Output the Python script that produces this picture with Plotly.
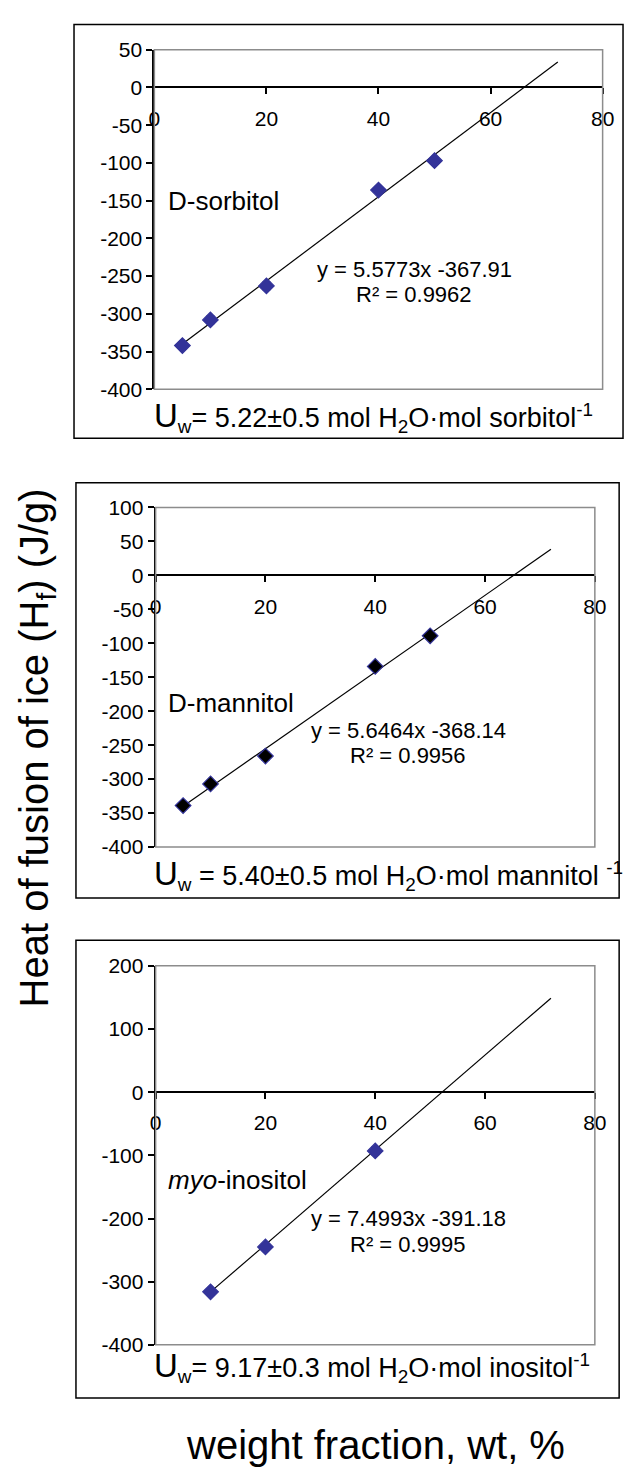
import plotly.graph_objects as go

W, H = 636, 1473

# ---------------- data ----------------
sorb_x = [5, 10, 20, 40, 50]
sorb_y = [-342, -308, -263, -136, -97]
sorb_err = [5, 5, 5, 3, 3]
sorb_fit = (5.5773, -367.91)

mann_x = [5, 10, 20, 40, 50]
mann_y = [-339, -307, -266, -134, -89]
mann_err = [5, 5, 6, 4, 4]
mann_fit = (5.6464, -368.14)

inos_x = [10, 20, 40]
inos_y = [-316, -245, -93]
inos_err = [5, 5, 6]
inos_fit = (7.4993, -391.18)

fit_end = 72
x_ticks = [0, 20, 40, 60, 80]
x_labels = ["0", "20", "40", "60", "80"]
y1_ticks = [50, 0, -50, -100, -150, -200, -250, -300, -350, -400]
y1_labels = ["50", "0", "-50", "-100", "-150", "-200", "-250", "-300", "-350", "-400"]
y2_ticks = [100, 50, 0, -50, -100, -150, -200, -250, -300, -350, -400]
y2_labels = ["100", "50", "0", "-50", "-100", "-150", "-200", "-250", "-300", "-350", "-400"]
y3_ticks = [200, 100, 0, -100, -200, -300, -400]
y3_labels = ["200", "100", "0", "-100", "-200", "-300", "-400"]

panels = [
    dict(name="D-sorbitol", x=sorb_x, y=sorb_y, err=sorb_err, fit=sorb_fit,
         yr=(-400, 50), tv=y1_ticks, tt=y1_labels, eq="y = 5.5773x -367.91", r2="R² = 0.9962",
         uw="<span style='font-size:33px'>U</span><sub>w</sub>= 5.22±0.5 mol H<sub>2</sub>O·mol sorbitol<sup>-1</sup>",
         fill="#333399"),
    dict(name="D-mannitol", x=mann_x, y=mann_y, err=mann_err, fit=mann_fit,
         yr=(-400, 100), tv=y2_ticks, tt=y2_labels, eq="y = 5.6464x -368.14", r2="R² = 0.9956",
         uw="<span style='font-size:33px'>U</span><sub>w</sub> = 5.40±0.5 mol H<sub>2</sub>O·mol mannitol <sup>-1</sup>",
         fill="#000000"),
    dict(name="<i>myo</i>-inositol", x=inos_x, y=inos_y, err=inos_err, fit=inos_fit,
         yr=(-400, 200), tv=y3_ticks, tt=y3_labels, eq="y = 7.4993x -391.18", r2="R² = 0.9995",
         uw="<span style='font-size:33px'>U</span><sub>w</sub>= 9.17±0.3 mol H<sub>2</sub>O·mol inositol<sup>-1</sup>",
         fill="#333399"),
]

# ---------------- layout geometry (pixels, top-origin) ----------------
geo = [
    dict(px=(152.7, 614), py=(38.3, 383.3), box=(70, 12.7, 635, 433), uw_y=411, name_y=192, eq_y=262, r2_y=287, eq_x=420),
    dict(px=(154, 606), py=(503.3, 848.3), box=(72, 478.3, 631, 900), uw_y=877, name_y=702, eq_y=730, r2_y=755, eq_x=414),
    dict(px=(154, 606), py=(969, 1354), box=(72, 943, 631, 1408), uw_y=1376, name_y=1187, eq_y=1226, r2_y=1252, eq_x=414),
]

def fx(p):
    return p / W

def fy(p):
    return 1 - p / H

FONT = "Liberation Sans, Arial, sans-serif"
fig = go.Figure()
shapes = []
annotations = []

for i, (p, g) in enumerate(zip(panels, geo)):
    n = "" if i == 0 else str(i + 1)
    xa, ya = "x" + n, "y" + n
    bx0, by0, bx1, by1 = g["box"]
    shapes.append(dict(type="rect", xref="paper", yref="paper", x0=fx(bx0), x1=fx(bx1),
                       y0=fy(by1), y1=fy(by0), line=dict(color="black", width=1.5),
                       fillcolor="white", layer="below"))
    shapes.append(dict(type="rect", xref=xa + " domain", yref=ya + " domain", x0=0, x1=1, y0=0, y1=1,
                       line=dict(color="#8c8c8c", width=1.5), layer="above"))
    a, b = p["fit"]
    xs = [p["x"][0], fit_end]
    fig.add_trace(go.Scatter(x=xs, y=[a * v + b for v in xs], mode="lines",
                             line=dict(color="black", width=1.2), xaxis=xa, yaxis=ya,
                             showlegend=False, hoverinfo="skip"))
    fig.add_trace(go.Scatter(x=p["x"], y=p["y"], mode="markers",
                             marker=dict(symbol="diamond", size=12, color=p["fill"],
                                         line=dict(color="#333399", width=1.2)),
                             error_y=dict(type="data", array=p["err"], color="#1a1a4d", thickness=1.2, width=4),
                             xaxis=xa, yaxis=ya, showlegend=False))
    d_y = (fy(g["py"][1]), fy(g["py"][0]))
    d_x = (fx(g["px"][0]), fx(g["px"][1]))
    ymin, ymax = p["yr"]
    zero_pos = d_y[0] + (0 - ymin) / (ymax - ymin) * (d_y[1] - d_y[0])
    fig.layout["xaxis" + n] = dict(domain=d_x, range=[0, 80], tickvals=x_ticks, ticktext=x_labels,
                                   anchor="free", position=zero_pos, showline=True, linecolor="black",
                                   linewidth=2, ticks="outside", ticklen=6, tickwidth=1.5,
                                   tickcolor="black", showgrid=False, zeroline=False,
                                   ticklabelstandoff=6,
                                   tickfont=dict(family=FONT, size=21, color="black"), fixedrange=True)
    fig.layout["yaxis" + n] = dict(domain=d_y, range=[ymin, ymax], tickvals=p["tv"], ticktext=p["tt"],
                                   anchor=xa, showline=True, linecolor="black", linewidth=2,
                                   ticks="outside", ticklen=6, tickwidth=1.5, tickcolor="black",
                                   showgrid=False, zeroline=False,
                                   tickfont=dict(family=FONT, size=21, color="black"), fixedrange=True)
    annotations.append(dict(xref="paper", yref="paper", x=fx(165), y=fy(g["name_y"]), xanchor="left",
                            yanchor="middle", text=p["name"], showarrow=False,
                            font=dict(family=FONT, size=26, color="black")))
    annotations.append(dict(xref="paper", yref="paper", x=fx(g["eq_x"]), y=fy(g["eq_y"]), xanchor="center",
                            yanchor="middle", text=p["eq"], showarrow=False,
                            font=dict(family=FONT, size=22, color="black")))
    annotations.append(dict(xref="paper", yref="paper", x=fx(g["eq_x"]), y=fy(g["r2_y"]), xanchor="center",
                            yanchor="middle", text=p["r2"], showarrow=False,
                            font=dict(family=FONT, size=22, color="black")))
    annotations.append(dict(xref="paper", yref="paper", x=fx(150), y=fy(g["uw_y"]), xanchor="left",
                            yanchor="middle", text=p["uw"], showarrow=False,
                            font=dict(family=FONT, size=27, color="black")))

annotations.append(dict(xref="paper", yref="paper", x=fx(32), y=fy(748), xanchor="center", yanchor="middle",
                        textangle=-90, text="Heat of fusion of ice (H<sub>f</sub>) (J/g)", showarrow=False,
                        font=dict(family=FONT, size=40, color="black")))
annotations.append(dict(xref="paper", yref="paper", x=fx(380), y=fy(1456), xanchor="center", yanchor="middle",
                        text="weight fraction, wt, %", showarrow=False,
                        font=dict(family=FONT, size=40, color="black")))

fig.update_layout(width=W, height=H, margin=dict(l=0, r=0, t=0, b=0),
                  paper_bgcolor="white", plot_bgcolor="#c0c0c0",
                  shapes=shapes, annotations=annotations, showlegend=False)

fig.write_html("out.html", config={"displayModeBar": False},
               post_script="document.body.style.margin='0';")
